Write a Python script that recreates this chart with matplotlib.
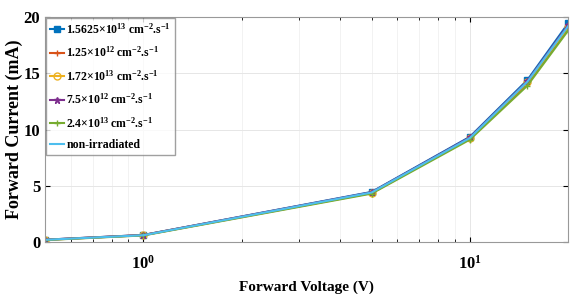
import matplotlib
matplotlib.use("Agg")
import matplotlib.pyplot as plt
from matplotlib.ticker import LogLocator, NullFormatter

plt.rcParams['font.family'] = ['Liberation Serif', 'DejaVu Serif']
plt.rcParams['mathtext.fontset'] = 'custom'
plt.rcParams['mathtext.rm'] = 'Liberation Serif:bold'
plt.rcParams['mathtext.it'] = 'Liberation Serif:bold'
plt.rcParams['mathtext.bf'] = 'Liberation Serif:bold'

voltage = [0.5, 1, 5, 10, 15, 20]

labels = [
    r"1.5625$\times$10$^{13}$ cm$^{-2}$.s$^{-1}$",
    r"1.25$\times$10$^{12}$ cm$^{-2}$.s$^{-1}$",
    r"1.72$\times$10$^{13}$ cm$^{-2}$.s$^{-1}$",
    r"7.5$\times$10$^{12}$ cm$^{-2}$.s$^{-1}$",
    r"2.4$\times$10$^{13}$ cm$^{-2}$.s$^{-1}$",
    "non-irradiated",
]
currents = [
    [0.20, 0.62, 4.45, 9.35, 14.4, 19.45],
    [0.18, 0.60, 4.35, 9.20, 14.1, 19.0],
    [0.19, 0.61, 4.38, 9.22, 14.2, 19.1],
    [0.20, 0.62, 4.42, 9.30, 14.3, 19.3],
    [0.17, 0.58, 4.30, 9.10, 13.9, 18.8],
    [0.19, 0.60, 4.40, 9.25, 14.25, 19.2],
]
colors = ["#0072BD", "#D95319", "#EDB120", "#7E2F8E", "#77AC30", "#4DBEEE"]
markers = ["s", "+", "o", "*", "+", None]

fig = plt.figure(figsize=(5.71, 2.94), dpi=100)
ax = fig.add_axes([0.079, 0.177, 0.916, 0.765])

for y, lab, c, m in zip(currents, labels, colors, markers):
    ax.plot(voltage, y, color=c, marker=m, markersize=5, linewidth=1.5,
            label=lab, markerfacecolor='none' if m == 'o' else c)

ax.set_xscale('log')
ax.set_xlim(0.5, 20)
ax.set_ylim(0, 20)
ax.set_yticks([0, 5, 10, 15, 20])
ax.xaxis.set_minor_locator(LogLocator(base=10, subs=range(2, 10)))
ax.xaxis.set_minor_formatter(NullFormatter())
ax.grid(True, which='major', color='#e6e6e6', linewidth=0.7)
ax.grid(True, which='minor', axis='x', color='#f0f0f0', linewidth=0.6)
ax.tick_params(which='both', direction='in', top=True, right=True, labelsize=12)
ax.tick_params(axis='x', pad=9)
for lbl in ax.get_xticklabels() + ax.get_yticklabels():
    lbl.set_fontweight('bold')
for s in ax.spines.values():
    s.set_color('#999999')

ax.set_xlabel("Forward Voltage (V)", fontsize=11, fontweight='bold', labelpad=6)
ax.set_ylabel("Forward Current (mA)", fontsize=13, fontweight='bold', labelpad=0)

leg = ax.legend(loc='upper left', prop={'weight': 'bold', 'size': 8.5},
                handlelength=1.2, handletextpad=0.2, borderpad=0.35,
                labelspacing=0.75, fancybox=False, edgecolor='#888888',
                borderaxespad=0.05)

fig.savefig("out.png", dpi=100)
